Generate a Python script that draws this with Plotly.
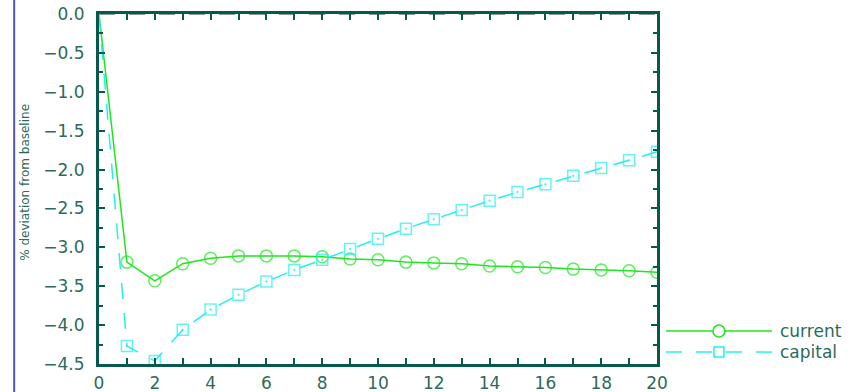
import plotly.graph_objects as go

# Periods after the shock
periods = list(range(0, 21))

# Percent deviation from baseline
current = [0.0, -3.19, -3.43, -3.21, -3.14, -3.11, -3.11, -3.11, -3.12, -3.15, -3.16,
           -3.19, -3.20, -3.21, -3.24, -3.25, -3.26, -3.28, -3.29, -3.30, -3.32]
capital = [0.0, -4.27, -4.46, -4.06, -3.80, -3.61, -3.44, -3.29, -3.16, -3.02, -2.89,
           -2.76, -2.64, -2.52, -2.40, -2.29, -2.19, -2.08, -1.98, -1.88, -1.77]

series_names = ["current", "capital"]

AXIS = "#06594c"
TEXT = "#2d6a5c"
GREEN = "#1ee61e"
CYAN = "#22f0f0"
FONT = "DejaVu Sans"

# no marker on the origin point
def marker_sizes(values, size):
    return [0] + [size] * (len(values) - 1)

fig = go.Figure()
fig.add_trace(go.Scatter(
    x=periods, y=current, mode="lines+markers", name=series_names[0],
    line=dict(color=GREEN, width=1.5),
    marker=dict(symbol="circle-open", size=marker_sizes(current, 12),
                color=GREEN, line=dict(width=1.5, color=GREEN)),
    showlegend=False,
))
fig.add_trace(go.Scatter(
    x=periods, y=capital, mode="lines+markers", name=series_names[1],
    line=dict(color=CYAN, width=1.5, dash="16px,14px"),
    marker=dict(symbol="square-open-dot", size=marker_sizes(capital, 11),
                color=CYAN, line=dict(width=1.5, color=CYAN)),
    showlegend=False,
))

axis_common = dict(
    showline=True, linecolor=AXIS, linewidth=3, mirror="ticks",
    ticks="inside", tickcolor=AXIS, tickwidth=2, ticklen=6,
    showgrid=False, zeroline=False, automargin=False,
    tickfont=dict(family=FONT, size=17, color=TEXT),
)

fig.update_xaxes(range=[0, 20], dtick=2, tick0=0, ticklabelstandoff=2,
                 minor=dict(dtick=1, ticks="inside", ticklen=6, tickcolor=AXIS, tickwidth=2),
                 **axis_common)
fig.update_yaxes(range=[-4.5, 0], dtick=0.5, tick0=0, tickformat=".1f", ticklabelstandoff=8,
                 minor=dict(dtick=0.25, ticks="inside", ticklen=4, tickcolor=AXIS, tickwidth=2),
                 **axis_common)

shapes = [
    # outer frame line on the far left
    dict(type="line", xref="paper", yref="paper", x0=-0.152, x1=-0.152, y0=-0.2, y1=1.2,
         line=dict(color="#5656a8", width=2)),
    # dashed zero reference
    dict(type="line", xref="x", yref="y", x0=0, x1=20, y0=0, y1=0,
         line=dict(color="#8a9a96", width=2, dash="16px,14px"), layer="below"),
]

# legend drawn beside the plot
legend_y = [0.094, 0.034]
legend_colors = [GREEN, CYAN]
legend_dash = ["solid", "16px,14px"]
for name, yy, col, dsh in zip(series_names, legend_y, legend_colors, legend_dash):
    shapes.append(dict(type="line", xref="paper", yref="paper", x0=1.016, x1=1.206,
                       y0=yy, y1=yy, line=dict(color=col, width=1.5, dash=dsh)))
    fig.add_annotation(xref="paper", yref="paper", x=1.216, y=yy, text=name,
                       showarrow=False, xanchor="left", yanchor="middle",
                       font=dict(family=FONT, size=17, color=TEXT))

# legend symbols
shapes.append(dict(type="circle", xref="paper", yref="paper", xsizemode="pixel", ysizemode="pixel",
                   xanchor=1.111, yanchor=legend_y[0], x0=-6, x1=6, y0=-6, y1=6,
                   line=dict(color=GREEN, width=1.5), fillcolor="white"))
shapes.append(dict(type="rect", xref="paper", yref="paper", xsizemode="pixel", ysizemode="pixel",
                   xanchor=1.111, yanchor=legend_y[1], x0=-5, x1=5, y0=-5, y1=5,
                   line=dict(color=CYAN, width=1.5), fillcolor="white"))

fig.add_annotation(xref="paper", yref="paper", x=-0.133, y=0.52, text="% deviation from baseline",
                   textangle=-90, showarrow=False, xanchor="center", yanchor="middle",
                   font=dict(family=FONT, size=12, color=TEXT))

fig.update_layout(
    width=856, height=392,
    margin=dict(l=99, r=199, t=14, b=28),
    paper_bgcolor="white", plot_bgcolor="white",
    shapes=shapes,
    showlegend=False,
)

fig.write_html("out.html")
